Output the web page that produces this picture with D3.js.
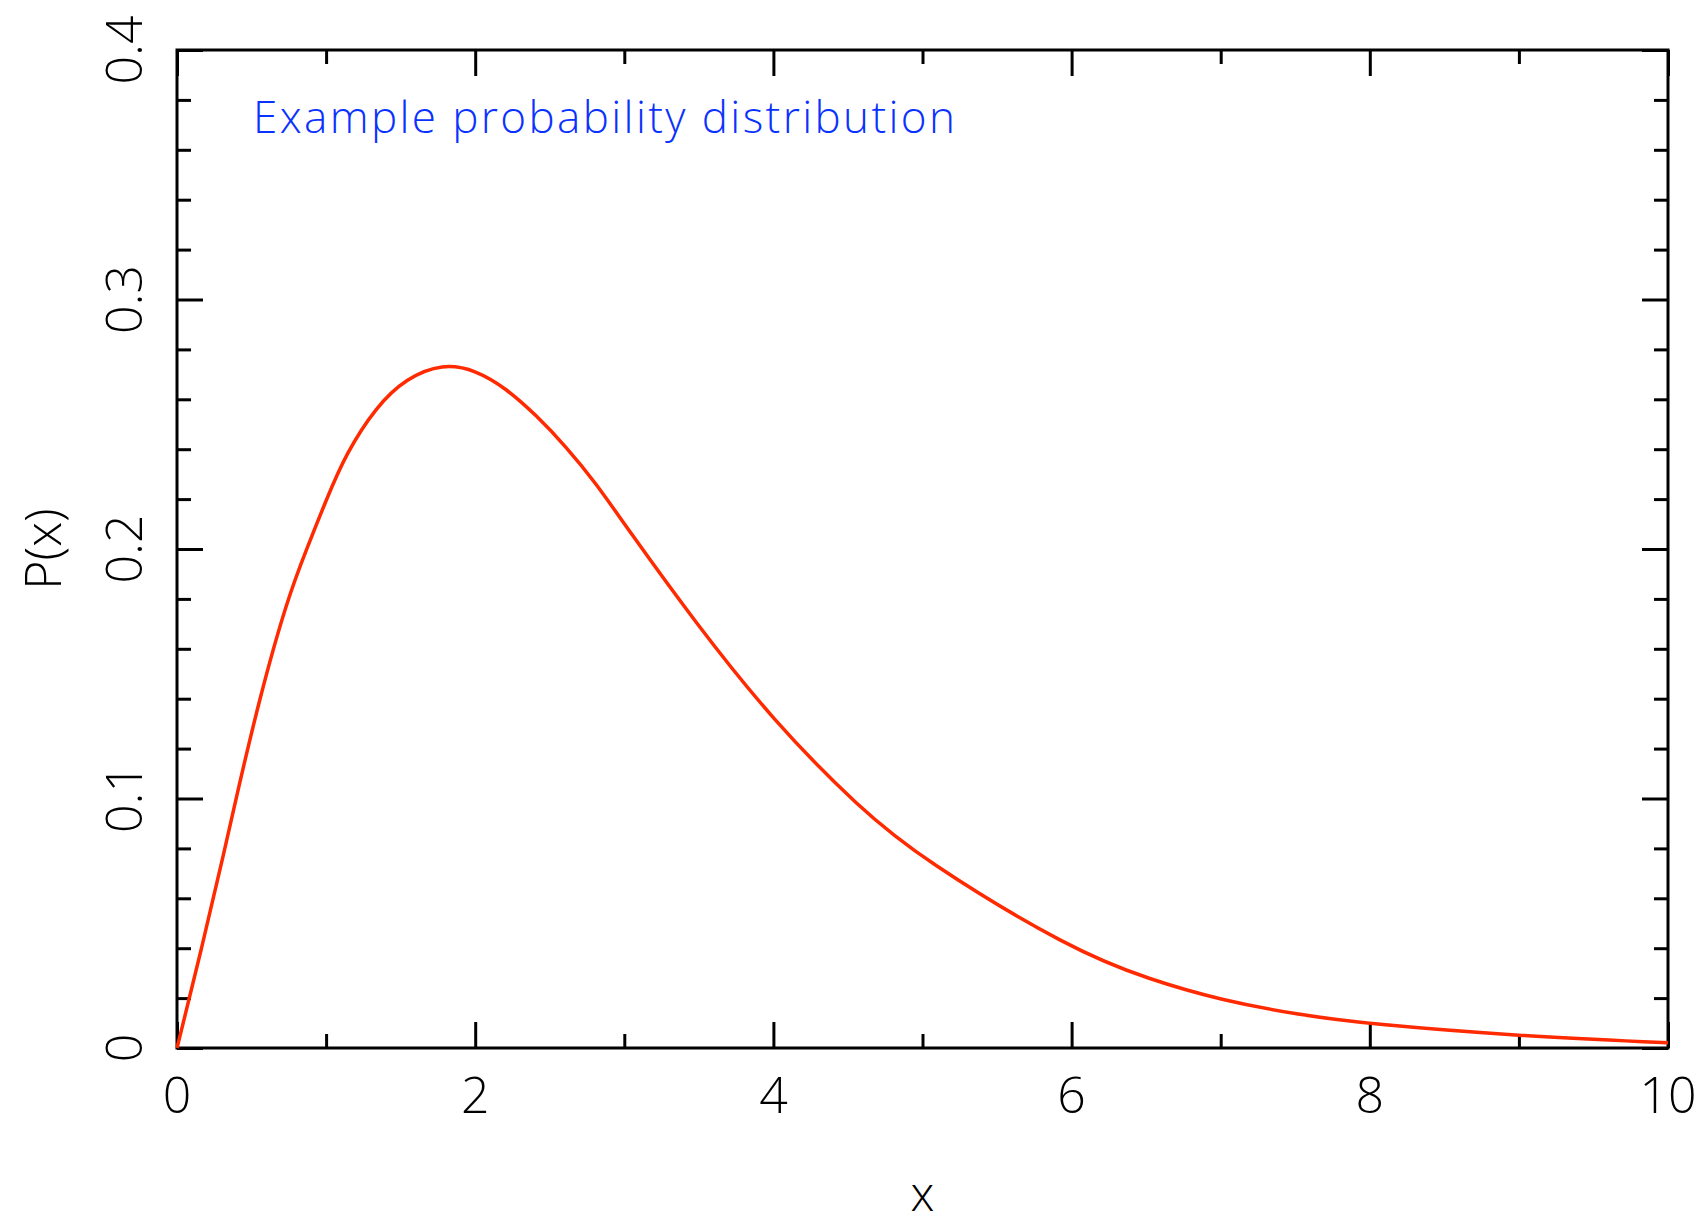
<!DOCTYPE html>
<html>
<head>
<meta charset="utf-8">
<script src="https://cdn.jsdelivr.net/npm/d3@7"></script>
<style>
  body { margin: 0; background: #fff; }
  svg text { font-family: "Open Sans", "DejaVu Sans", sans-serif; font-weight: 300; }
</style>
</head>
<body>
<div id="chart"></div>
<script>
const chart_w = 1706;
const chart_h = 1225;

// curve
const xValues = [0, 0.166, 0.322, 0.396, 0.552, 0.74, 0.87, 1.0, 1.134, 1.335, 1.536, 1.782, 2.006, 2.207, 2.408, 2.61, 2.811, 3.013, 3.47, 4.0, 4.58, 5.0, 6.0, 6.53, 7.0, 7.53, 8.0, 9.0, 10.0];
const pValues = [0, 0.04, 0.08, 0.10, 0.14, 0.18, 0.20, 0.2196, 0.2383, 0.257, 0.2684, 0.2744, 0.2717, 0.2644, 0.2537, 0.241, 0.2263, 0.2089, 0.171, 0.131, 0.096, 0.0756, 0.0393, 0.0273, 0.0192, 0.0132, 0.0096, 0.0048, 0.0021];

const xMajor = [0, 2, 4, 6, 8, 10];
const xMinor = [1, 3, 5, 7, 9];
const xLabels = ["0", "2", "4", "6", "8", "10"];
const yMajor = [0, 0.1, 0.2, 0.3, 0.4];
const yMinor = [0.02, 0.04, 0.06, 0.08, 0.12, 0.14, 0.16, 0.18, 0.22, 0.24, 0.26, 0.28, 0.32, 0.34, 0.36, 0.38];
const yLabels = ["0", "0.1", "0.2", "0.3", "0.4"];

const title = "Example probability distribution";
const xTitle = "x";
const yTitle = "P(x)";

let margin = { top: 50, right: 38, bottom: 177, left: 177 },
    width = chart_w - margin.left - margin.right,
    height = chart_h - margin.top - margin.bottom

const svg = d3.select("#chart").append("svg")
    .attr("width", chart_w)
    .attr("height", chart_h)

const g = svg.append("g")
    .attr("transform", `translate(${margin.left}, ${margin.top})`)

let x = d3.scaleLinear().domain([0, 10]).range([0, width])
let y = d3.scaleLinear().domain([0, 0.4]).range([height, 0])

const majorLen = 26, minorLen = 14

// ticks point inwards on all four sides
function tickAxis(axis, vals, len) {
    return axis.tickValues(vals).tickSize(-len).tickFormat("")
}

let axes = [
    [d3.axisBottom(x), `translate(0, ${height})`, xMajor, majorLen],
    [d3.axisBottom(x), `translate(0, ${height})`, xMinor, minorLen],
    [d3.axisTop(x), "translate(0, 0)", xMajor, majorLen],
    [d3.axisTop(x), "translate(0, 0)", xMinor, minorLen],
    [d3.axisLeft(y), "translate(0, 0)", yMajor, majorLen],
    [d3.axisLeft(y), "translate(0, 0)", yMinor, minorLen],
    [d3.axisRight(y), `translate(${width}, 0)`, yMajor, majorLen],
    [d3.axisRight(y), `translate(${width}, 0)`, yMinor, minorLen]
]
axes.forEach(a => {
    let ax = g.append("g")
        .attr("transform", a[1])
        .call(tickAxis(a[0], a[2], a[3]))
    ax.select(".domain").remove()
    ax.selectAll("line").attr("stroke", "#000").attr("stroke-width", 3)
})

// frame
g.append("rect")
    .attr("width", width)
    .attr("height", height)
    .attr("fill", "none")
    .attr("stroke", "#000")
    .attr("stroke-width", 3)

// curve (basis spline smooths out reading noise)
const line = d3.line()
    .x((d, i) => x(xValues[i]))
    .y(d => y(d))
    .curve(d3.curveBasis)

g.append("path")
    .datum(pValues)
    .attr("fill", "none")
    .attr("stroke", "#ff2a00")
    .attr("stroke-width", 3.5)
    .attr("d", line)

// tick labels
g.selectAll(".xlab")
    .data(xMajor)
    .enter()
    .append("text")
    .attr("class", "xlab")
    .attr("x", d => x(d))
    .attr("y", height + 65)
    .attr("text-anchor", "middle")
    .style("font-size", "50px")
    .text((d, i) => xLabels[i])

g.selectAll(".ylab")
    .data(yMajor)
    .enter()
    .append("text")
    .attr("class", "ylab")
    .attr("transform", d => `translate(-35, ${y(d)}) rotate(-90)`)
    .attr("text-anchor", "middle")
    .style("font-size", "50px")
    .text((d, i) => yLabels[i])

// axis titles
g.append("text")
    .attr("x", width / 2)
    .attr("y", height + 163)
    .attr("text-anchor", "middle")
    .style("font-size", "48px")
    .text(xTitle)

g.append("text")
    .attr("transform", `translate(-116, ${height / 2}) rotate(-90)`)
    .attr("text-anchor", "middle")
    .style("font-size", "50px")
    .text(yTitle)

g.append("text")
    .attr("x", 76)
    .attr("y", 83)
    .attr("fill", "#0a32ff")
    .attr("textLength", 702)
    .attr("lengthAdjust", "spacing")
    .style("font-size", "44px")
    .text(title)
</script>
</body>
</html>
